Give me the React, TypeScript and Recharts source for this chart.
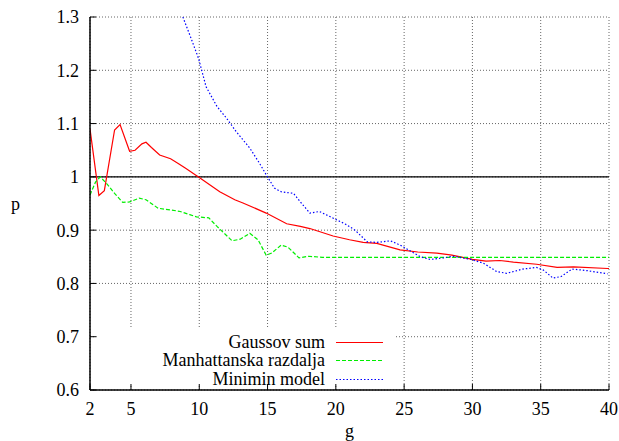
import React from "react";
import { LineChart, Line, XAxis, YAxis, CartesianGrid, ReferenceLine, Legend } from "recharts";

const FONT = '"Liberation Serif"';

// x ticks and y ticks
const G_TICKS = [2, 5, 10, 15, 20, 25, 30, 35, 40];
const P_TICKS = [0.6, 0.7, 0.8, 0.9, 1.0, 1.1, 1.2, 1.3];

// Gaussov sum
const gaussG = [2, 2.65, 3.05, 3.8, 4.2, 4.9, 5.3, 5.8, 6.1, 6.5, 7.1, 7.9, 8.4, 9, 9.7, 10, 11.5, 12.6, 13.2, 14.9, 16.4, 17.4, 18.1, 19.8, 21, 22, 23, 24.7, 26, 27.4, 28.5, 30, 31, 32, 33, 34.7, 36.2, 37.4, 39.9, 40];
const gaussP = [1.09, 0.965, 0.974, 1.088, 1.098, 1.048, 1.05, 1.062, 1.065, 1.055, 1.041, 1.034, 1.026, 1.016, 1.004, 0.999, 0.972, 0.957, 0.951, 0.932, 0.912, 0.907, 0.903, 0.889, 0.882, 0.877, 0.875, 0.863, 0.859, 0.857, 0.853, 0.845, 0.842, 0.843, 0.84, 0.836, 0.83, 0.831, 0.828, 0.828];

// Manhattanska razdalja
const manhG = [2, 2.4, 2.75, 3.2, 3.8, 4.4, 4.9, 5.6, 6.1, 7, 7.9, 8.6, 9.3, 9.8, 10.7, 11.3, 12.4, 13, 13.7, 14.3, 14.9, 15.3, 16, 16.5, 17.3, 18, 19, 40];
const manhP = [0.966, 0.99, 1.0, 0.988, 0.969, 0.952, 0.953, 0.96, 0.957, 0.941, 0.938, 0.935, 0.929, 0.925, 0.923, 0.907, 0.88, 0.883, 0.894, 0.882, 0.853, 0.857, 0.872, 0.868, 0.848, 0.851, 0.849, 0.849];

// Minimin model
const miniG = [8.8, 9.4, 9.95, 10.5, 11.3, 12, 12.7, 13.7, 14.4, 14.9, 15.5, 16, 16.9, 17.5, 18.1, 18.8, 19.6, 20.8, 21.4, 22.3, 23, 24, 24.7, 25.5, 26.2, 26.9, 27.9, 28.6, 29.9, 30.8, 31.8, 32.5, 33.7, 34.7, 35.2, 35.9, 36.5, 37.3, 38.4, 39.9];
const miniP = [1.3, 1.26, 1.222, 1.169, 1.132, 1.11, 1.085, 1.054, 1.026, 1.004, 0.979, 0.972, 0.969, 0.95, 0.932, 0.935, 0.925, 0.91, 0.9, 0.878, 0.877, 0.88, 0.872, 0.86, 0.85, 0.845, 0.848, 0.851, 0.845, 0.838, 0.822, 0.819, 0.827, 0.83, 0.825, 0.81, 0.813, 0.827, 0.824, 0.818];

const zip = (g: number[], p: number[]) => g.map((x, i) => ({ g: x, p: p[i] }));

const SERIES = [
  { name: "Gaussov sum", data: zip(gaussG, gaussP), color: "#ff0000", dash: undefined },
  { name: "Manhattanska razdalja", data: zip(manhG, manhP), color: "#00ee00", dash: "4 2" },
  { name: "Minimin model", data: zip(miniG, miniP), color: "#0000ff", dash: "1.5 2" },
];

function KeyBox() {
  return (
    <svg width={298} height={55} style={{ display: "block", background: "#fff", overflow: "visible" }}>
      {SERIES.map((s, i) => {
        const y = 12.5 + i * 18.5;
        return (
          <g key={s.name}>
            <text x={228} y={y} dy="0.35em" textAnchor="end" style={{ fontFamily: FONT, fontSize: 18 }} fill="#000">
              {s.name}
            </text>
            <line x1={239} x2={286} y1={Math.round(y) + 0.5} y2={Math.round(y) + 0.5} stroke={s.color} strokeWidth={1.2} strokeDasharray={s.dash} />
          </g>
        );
      })}
    </svg>
  );
}

const tickStyle = { fill: "#000", fontSize: 18, style: { fontFamily: FONT } };
const labelStyle = { fill: "#000", fontSize: 18, style: { fontFamily: FONT } };
const fmtP = (v: number) => (v === 1 ? "1" : v.toFixed(1));

export default function App() {
  return (
    <div style={{ position: "absolute", left: 0, top: 0, background: "#fff", fontFamily: FONT }}>
      <LineChart width={619} height={441} margin={{ top: 17, right: 10, bottom: 0, left: 0 }} style={{ fontFamily: FONT }}>
        <CartesianGrid stroke="#666" strokeDasharray="1 2" />
        <XAxis
          type="number"
          dataKey="g"
          domain={[2, 40]}
          ticks={G_TICKS}
          allowDataOverflow
          height={51}
          tickSize={-6}
          tickMargin={18}
          tick={tickStyle}
          tickLine={{ stroke: "#000" }}
          axisLine={{ stroke: "#000", strokeWidth: 1.5 }}
          label={{ value: "g", position: "insideBottom", offset: 4, ...labelStyle }}
        />
        <XAxis
          xAxisId="top"
          orientation="top"
          type="number"
          domain={[2, 40]}
          ticks={G_TICKS}
          allowDataOverflow
          height={0}
          tickSize={-6}
          tickFormatter={() => ""}
          tickLine={{ stroke: "#000" }}
          axisLine={{ stroke: "#000", strokeWidth: 1.5 }}
        />
        <YAxis
          type="number"
          domain={[0.6, 1.3]}
          ticks={P_TICKS}
          allowDataOverflow
          width={90}
          tickSize={-6}
          tickMargin={17}
          tickFormatter={fmtP}
          tick={tickStyle}
          tickLine={{ stroke: "#000" }}
          axisLine={{ stroke: "#000", strokeWidth: 1.5 }}
          label={{ value: "p", position: "insideLeft", offset: 11, ...labelStyle }}
        />
        <YAxis
          yAxisId="right"
          orientation="right"
          type="number"
          domain={[0.6, 1.3]}
          ticks={P_TICKS}
          allowDataOverflow
          width={0}
          tickSize={-6}
          tickFormatter={() => ""}
          tickLine={{ stroke: "#000" }}
          axisLine={{ stroke: "#000", strokeWidth: 1.5 }}
        />
        <ReferenceLine y={1} stroke="#000" strokeWidth={1.2} />
        {SERIES.map((s) => (
          <Line
            key={s.name}
            data={s.data}
            dataKey="p"
            name={s.name}
            type="linear"
            stroke={s.color}
            strokeWidth={1.2}
            strokeDasharray={s.dash}
            dot={false}
            isAnimationActive={false}
          />
        ))}
        <Legend
          layout="vertical"
          align="center"
          verticalAlign="middle"
          content={() => <KeyBox />}
          wrapperStyle={{ position: "absolute", left: 97, top: 329, width: 298, height: 55 }}
        />
      </LineChart>
    </div>
  );
}
